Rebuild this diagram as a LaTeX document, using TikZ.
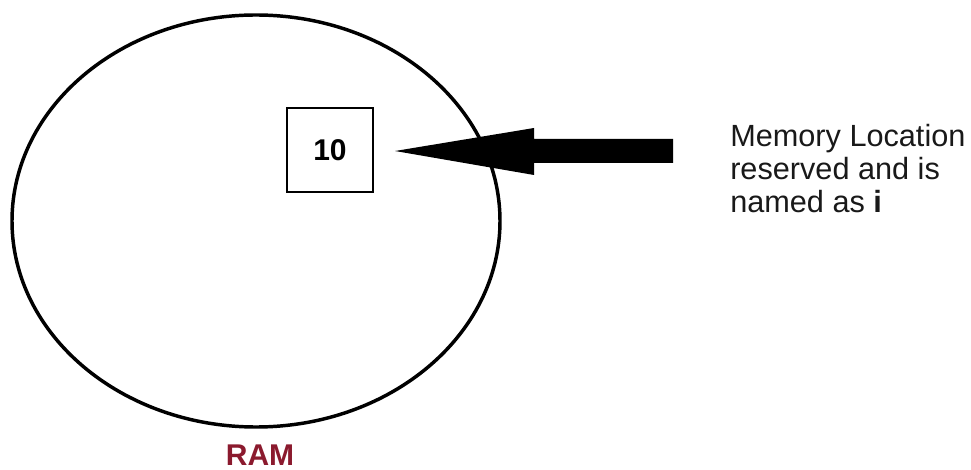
\documentclass[tikz,border=0pt]{standalone}
\usepackage{fontspec}
\setmainfont{Liberation Sans}
\definecolor{ramred}{HTML}{8B1A2E}
\begin{document}
\begin{tikzpicture}[x=0.75pt,y=-0.75pt,
  memory/.style={draw=black,line width=2.6pt},
  cellbox/.style={draw=black,line width=0.8pt,minimum width=64.5pt,minimum height=63pt,inner sep=0pt,font=\fontsize{22.5}{24}\selectfont\bfseries},
  blockarrow/.style={fill=black,draw=none},
  note/.style={inner sep=0pt,align=left,font=\fontsize{23}{24.75}\selectfont,text=black!90},
  ramlabel/.style={inner sep=0pt,font=\fontsize{22.5}{24}\selectfont\bfseries,text=ramred}]
\useasboundingbox (0,0) rectangle (971,470);
\draw[memory] (256,221) ellipse [x radius=244, y radius=206];
\node[cellbox] (cell) at (330,150) {10};
\coordinate (tip) at (395,151);
\coordinate (tail) at (673,151);
\fill[blockarrow] (tip) -- (534,128) -- (534,139) -- (tail |- 0,139) -- (tail |- 0,163) -- (534,163) -- (534,175) -- cycle;
\node[note,anchor=base west] (desc) at (730,213) {Memory Location\\reserved and is\\named as \textbf{i}};
\node[ramlabel,anchor=base] (ram) at (260,465) {RAM};
\end{tikzpicture}
\end{document}
